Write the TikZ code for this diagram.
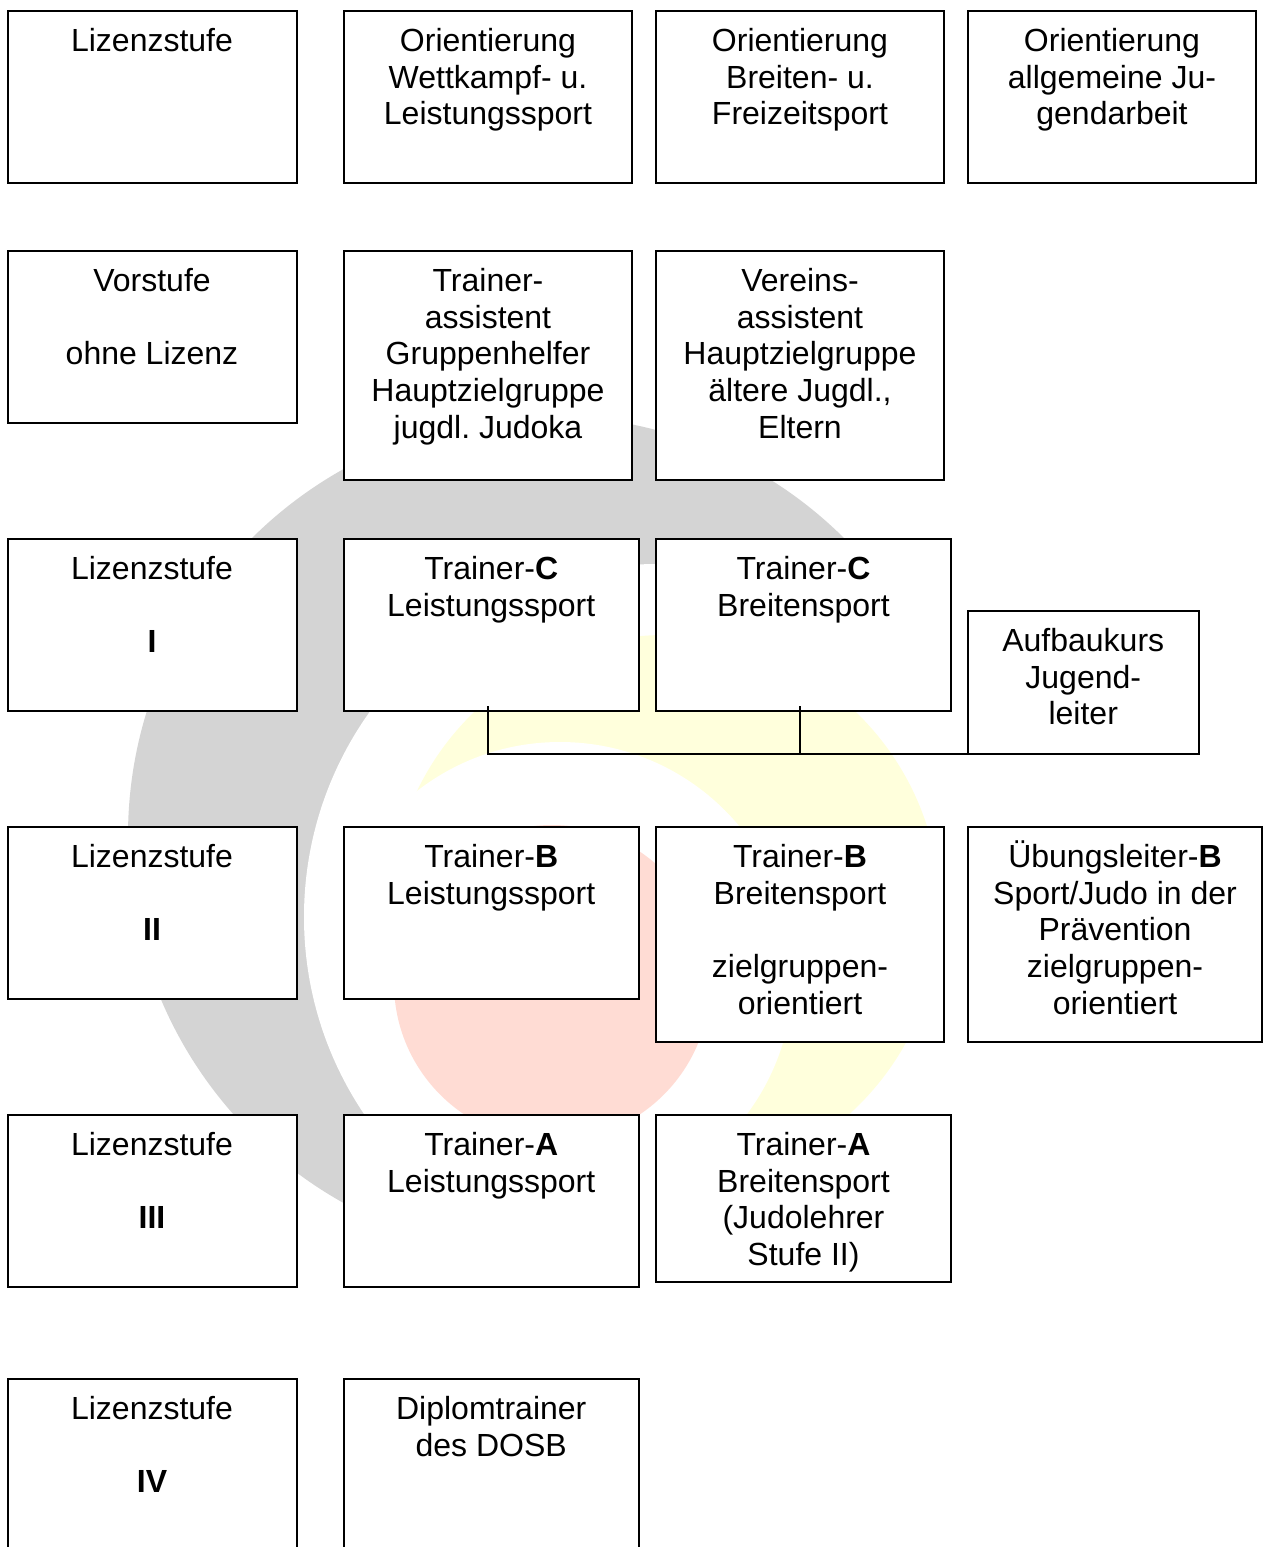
\documentclass[tikz,border=0pt]{standalone}
\usepackage{fontspec}
\setmainfont{Liberation Sans}
\frenchspacing
\newcommand{\bx}[6]{%
  \node[boxst, anchor=north west] (#1) at (#2,#3)
    {\parbox[t][\dimexpr (#5pt-#3pt)*3/4\relax][t]{\dimexpr (#4pt-#2pt)*3/4\relax}{\centering\fontsize{24pt}{27.5pt}\selectfont\rule{0pt}{30.75pt}#6}};%
}
\tikzset{
  boxst/.style={draw=black, fill=white, line width=1.5pt, inner sep=0pt, outer sep=0pt},
  linkst/.style={draw=black, line width=1.5pt},
}
\definecolor{wmgray}{RGB}{212,212,212}
\definecolor{wmyellow}{RGB}{255,255,220}
\definecolor{wmred}{RGB}{255,220,212}
\begin{document}
\begin{tikzpicture}[x=0.75pt,y=-0.75pt]
\path[use as bounding box] (0,0) rectangle (1263,1547);
\clip (0,0) rectangle (1263,1547);
\fill[white] (0,0) rectangle (1263,1547);
% watermark
\fill[wmgray] (548,836) circle[radius=420];
\fill[white] (657,917) circle[radius=353];
\fill[white] (900,711) rectangle (970,740);
\fill[wmyellow] (665,910) circle[radius=275];
\fill[white] (560,975) circle[radius=233];
\fill[wmred] (552,983) circle[radius=158];
% row 1
\bx{h0}{7.5}{10.5}{296.5}{182.5}{Lizenzstufe}
\bx{h1}{344}{10.5}{632}{182.5}{Orientierung\\Wettkampf- u.\\Leistungssport}
\bx{h2}{656}{10.5}{944}{182.5}{Orientierung\\Breiten- u.\\Freizeitsport}
\bx{h3}{968}{10.5}{1256}{182.5}{Orientierung\\allgemeine Ju-\\gendarbeit}
% row 2
\bx{v0}{7.5}{250.5}{296.5}{422.5}{Vorstufe\\\mbox{}\\ohne Lizenz}
\bx{v1}{344}{250.5}{632}{480}{Trainer-\\assistent\\Gruppenhelfer\\Hauptzielgruppe\\jugdl. Judoka}
\bx{v2}{656}{250.5}{944}{480}{Vereins-\\assistent\\Hauptzielgruppe\\ältere Jugdl.,\\Eltern}
% row 3
\bx{c0}{7.5}{538.5}{296.5}{710.5}{Lizenzstufe\\\mbox{}\\\textbf{I}}
\bx{c1}{344}{538.5}{638.5}{710.5}{Trainer-\textbf{C}\\Leistungssport}
\bx{c2}{656}{538.5}{951}{710.5}{Trainer-\textbf{C}\\Breitensport}
\bx{c3}{968}{610.5}{1198.5}{753.5}{Aufbaukurs\\Jugend-\\leiter}
% connector
\coordinate (tick1) at (488,706);
\coordinate (tick2) at (800,706);
\draw[linkst] (tick1) |- (c3.south west);
\draw[linkst] (tick2) -- (tick2 |- c3.south west);
% row 4
\bx{b0}{7.5}{826.5}{296.5}{998.5}{Lizenzstufe\\\mbox{}\\\textbf{II}}
\bx{b1}{344}{826.5}{638.5}{998.5}{Trainer-\textbf{B}\\Leistungssport}
\bx{b2}{656}{826.5}{944}{1041.5}{Trainer-\textbf{B}\\Breitensport\\\mbox{}\\zielgruppen-\\orientiert}
\bx{b3}{968}{826.5}{1262}{1041.5}{Übungsleiter-\textbf{B}\\Sport/Judo in der\\Prävention\\zielgruppen-\\orientiert}
% row 5
\bx{a0}{7.5}{1114.5}{296.5}{1286.5}{Lizenzstufe\\\mbox{}\\\textbf{III}}
\bx{a1}{344}{1114.5}{638.5}{1286.5}{Trainer-\textbf{A}\\Leistungssport}
\bx{a2}{656}{1114.5}{951}{1281.5}{Trainer-\textbf{A}\\Breitensport\\(Judolehrer\\Stufe II)}
% row 6
\bx{d0}{7.5}{1378.5}{296.5}{1560}{Lizenzstufe\\\mbox{}\\\textbf{IV}}
\bx{d1}{344}{1378.5}{638.5}{1560}{Diplomtrainer\\des DOSB}
\end{tikzpicture}
\end{document}
